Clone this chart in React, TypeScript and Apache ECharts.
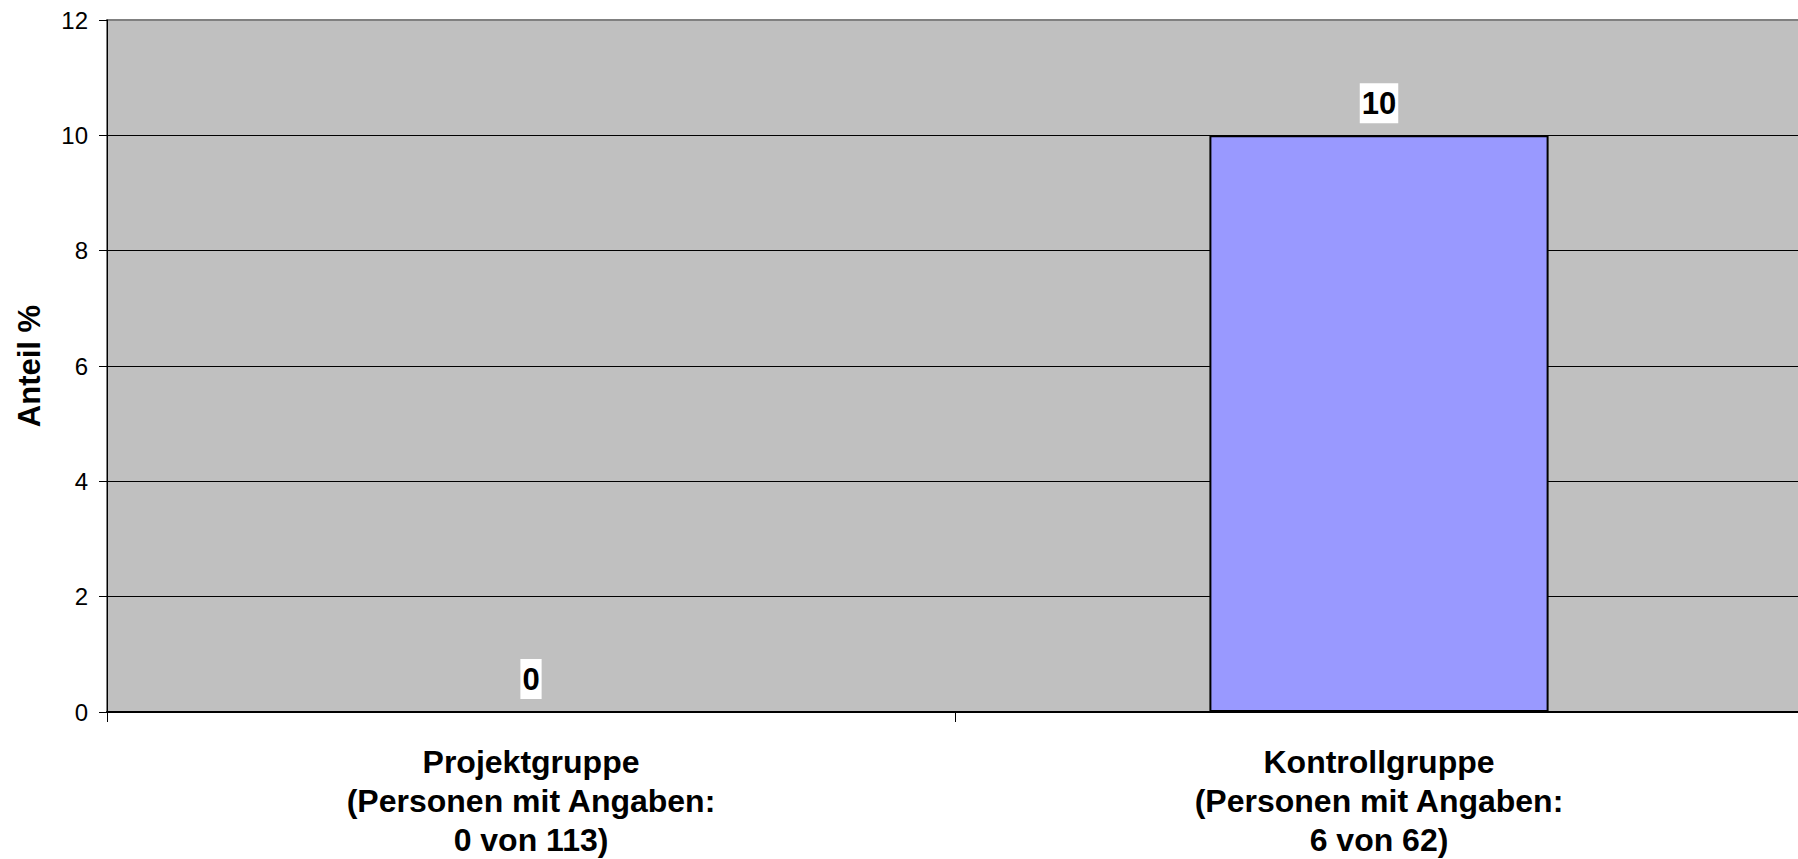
import React, { useEffect, useRef } from "react";
import * as echarts from "echarts";

// Group labels (three lines each) and the share in percent
const categories: string[] = [
  "Projektgruppe\n(Personen mit Angaben:\n0 von 113)",
  "Kontrollgruppe\n(Personen mit Angaben:\n6 von 62)",
];
const shares: number[] = [0, 10];

const yAxisTitle = "Anteil %";
const yMin = 0;
const yMax = 12;
const yStep = 2;

const FONT = "'Liberation Sans', Arial, Helvetica, sans-serif";

export default function App() {
  const ref = useRef<HTMLDivElement>(null);

  useEffect(() => {
    if (!ref.current) return;
    const chart = echarts.init(ref.current, undefined, { renderer: "svg" });
    chart.setOption({
      animation: false,
      backgroundColor: "#ffffff",
      textStyle: { fontFamily: FONT },
      grid: {
        left: 107,
        top: 20,
        width: 1696,
        height: 692,
        show: true,
        backgroundColor: "#C0C0C0",
        borderColor: "#808080",
        borderWidth: 2,
      },
      xAxis: {
        type: "category",
        data: categories,
        boundaryGap: true,
        axisLine: { show: true, lineStyle: { color: "#000", width: 2 } },
        axisTick: {
          show: true,
          interval: 0,
          length: 10,
          lineStyle: { color: "#000", width: 1 },
        },
        axisLabel: {
          interval: 0,
          margin: 30,
          fontFamily: FONT,
          fontSize: 32,
          fontWeight: "bold",
          color: "#000",
          lineHeight: 39,
          align: "center",
        },
        splitLine: { show: false },
      },
      yAxis: {
        type: "value",
        min: yMin,
        max: yMax,
        interval: yStep,
        name: yAxisTitle,
        nameLocation: "middle",
        nameGap: 62,
        nameRotate: 90,
        nameTextStyle: {
          fontFamily: FONT,
          fontSize: 31,
          fontWeight: "bold",
          color: "#000",
        },
        axisLine: { show: true, lineStyle: { color: "#000", width: 1 } },
        axisTick: {
          show: true,
          length: 8,
          lineStyle: { color: "#000", width: 1 },
        },
        axisLabel: {
          margin: 19,
          fontFamily: FONT,
          fontSize: 24,
          color: "#000",
        },
        splitLine: {
          show: true,
          showMinLine: false,
          showMaxLine: false,
          lineStyle: { color: "#000", width: 1 },
        },
      },
      series: [
        {
          type: "bar",
          data: shares,
          barWidth: "40%",
          itemStyle: {
            color: "#9999FF",
            borderColor: "#000",
            borderWidth: 2,
          },
          label: {
            show: true,
            position: "top",
            distance: 12,
            fontFamily: FONT,
            fontSize: 31,
            fontWeight: "bold",
            color: "#000",
            backgroundColor: "#ffffff",
            lineHeight: 36,
            padding: [2, 2, 2, 2],
          },
        },
      ],
    });
    return () => chart.dispose();
  }, []);

  // The plot area runs slightly past the right edge of the visible frame,
  // so the chart canvas is a bit wider than the clipping box around it.
  return (
    <div
      style={{
        position: "absolute",
        left: 0,
        top: 0,
        width: 1798,
        height: 859,
        overflow: "hidden",
      }}
    >
      <div ref={ref} style={{ width: 1812, height: 859 }} />
    </div>
  );
}
